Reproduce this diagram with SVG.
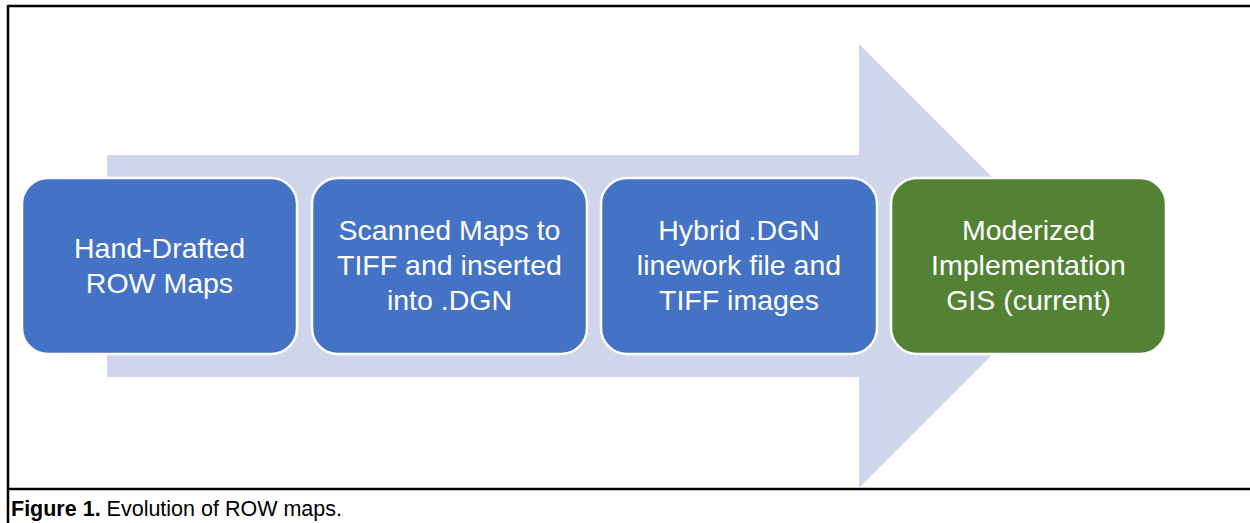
<svg xmlns="http://www.w3.org/2000/svg" width="1250" height="523" viewBox="0 0 1250 523">
<style>
.frame{stroke:#000;stroke-width:2.5;fill:none}
.box{stroke:#fff;stroke-width:2.5}
.blue{fill:#4472C4}
.green{fill:#548235}
.lbl{font-family:"Liberation Sans",Arial,sans-serif;font-size:28.5px;fill:#fff;text-anchor:middle}
.cap{font-family:"Liberation Sans",Arial,sans-serif;font-size:21.5px;fill:#000}
</style>
<rect width="1250" height="523" fill="#fff"/>
<g id="frame">
<line class="frame" x1="8" y1="6" x2="1250" y2="6"/>
<line class="frame" x1="8" y1="5" x2="8" y2="523"/>
<line class="frame" x1="8" y1="489" x2="1250" y2="489"/>
</g>
<g id="connectors">
<polygon points="107,155 859,155 859,44 1081,266 859,488 859,377 107,377" fill="#CFD5EA"/>
</g>
<g id="node1">
<rect class="box blue" x="22" y="178" width="275" height="176" rx="26"/>
<text class="lbl"><tspan x="159.5" y="258">Hand-Drafted</tspan><tspan x="159.5" y="293">ROW Maps</tspan></text>
</g>
<g id="node2">
<rect class="box blue" x="312" y="178" width="275" height="176" rx="26"/>
<text class="lbl"><tspan x="449.5" y="240">Scanned Maps to</tspan><tspan x="449.5" y="275">TIFF and inserted</tspan><tspan x="449.5" y="310">into .DGN</tspan></text>
</g>
<g id="node3">
<rect class="box blue" x="601" y="178" width="276" height="176" rx="26"/>
<text class="lbl"><tspan x="739" y="240">Hybrid .DGN</tspan><tspan x="739" y="275">linework file and</tspan><tspan x="739" y="310">TIFF images</tspan></text>
</g>
<g id="node4">
<rect class="box green" x="891" y="178" width="275" height="176" rx="26"/>
<text class="lbl"><tspan x="1028.5" y="240">Moderized</tspan><tspan x="1028.5" y="275">Implementation</tspan><tspan x="1028.5" y="310">GIS (current)</tspan></text>
</g>
<g id="caption">
<text class="cap" x="11" y="516"><tspan font-weight="bold">Figure 1.</tspan> Evolution of ROW maps.</text>
</g>
</svg>
